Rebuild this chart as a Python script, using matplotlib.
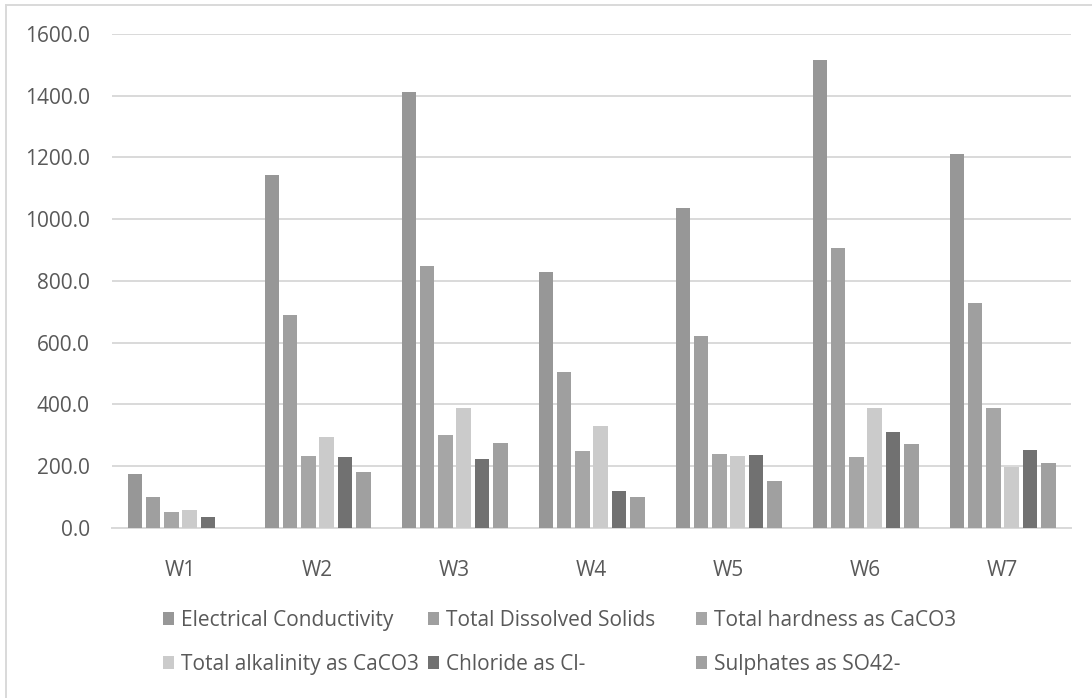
import numpy as np
import matplotlib
matplotlib.use("Agg")
import matplotlib.pyplot as plt
from matplotlib.lines import Line2D

wells = ["W1", "W2", "W3", "W4", "W5", "W6", "W7"]
params = ["Electrical Conductivity", "Total Dissolved Solids", "Total hardness as CaCO3",
          "Total alkalinity as CaCO3", "Chloride as Cl-", "Sulphates as SO42-"]

elec_cond = [175, 1143, 1411, 830, 1035, 1515, 1210]
tds = [99, 689, 849, 504, 622, 908, 729]
hardness = [52, 233, 301, 248, 240, 229, 390]
alkalinity = [58, 296, 390, 331, 233, 390, 198]
chloride = [35, 231, 225, 120, 235, 310, 254]
sulphates = [0, 181, 274, 99, 153, 271, 210]

series = [elec_cond, tds, hardness, alkalinity, chloride, sulphates]
colors = ["#979797", "#9f9f9f", "#a6a6a6", "#cbcbcb", "#717171", "#a0a0a0"]

plt.rcParams['font.family'] = ['Open Sans', 'DejaVu Sans']
txt_col = "#595959"
fs = 15

fig = plt.figure(figsize=(10.92, 6.98), dpi=100)
ax = fig.add_axes([0.1026, 0.2436, 0.8782, 0.7077])

x = np.arange(len(wells))
step = 0.1336
bw = 0.106
bars = []
for i, vals in enumerate(series):
    b = ax.bar(x + (i - 2.5) * step, vals, width=bw, color=colors[i], label=params[i], zorder=3)
    bars.append(b)

ax.set_xlim(-0.5, len(wells) - 0.5)
ax.set_ylim(0, 1600)
ax.set_yticks(np.arange(0, 1601, 200))
ax.set_yticklabels(["%.1f" % v for v in np.arange(0, 1601, 200)])
ax.set_xticks(x)
ax.set_xticklabels(wells)
ax.grid(axis="y", color="#d9d9d9", linewidth=1.4, zorder=0)
for s in ["top", "right", "left"]:
    ax.spines[s].set_visible(False)
ax.spines["bottom"].set_color("#d9d9d9")
ax.spines["bottom"].set_linewidth(1.4)
ax.tick_params(axis="both", length=0, labelsize=fs, colors=txt_col)
ax.tick_params(axis="y", pad=16)
ax.tick_params(axis="x", pad=23)

# legend laid out row-wise like excel: three columns at fixed positions
col_x = [163 / 1092, 428 / 1092, 696 / 1092]
for c in range(3):
    idx = [c, c + 3]
    leg = fig.legend([bars[k] for k in idx], [params[k] for k in idx],
                     loc="center left", bbox_to_anchor=(col_x[c], 0.0795), ncol=1,
                     frameon=False, fontsize=fs, handlelength=0.55, handleheight=0.55,
                     handletextpad=0.3, labelspacing=1.1, borderpad=0, borderaxespad=0)
    for t in leg.get_texts():
        t.set_color(txt_col)

# outer frame (cut off at right/bottom)
fig.add_artist(Line2D([0.0055, 0.0055], [0, 0.993], color="#d9d9d9", lw=1.4))
fig.add_artist(Line2D([0.0055, 1], [0.993, 0.993], color="#d9d9d9", lw=1.4))

fig.savefig("out.png", dpi=100)
